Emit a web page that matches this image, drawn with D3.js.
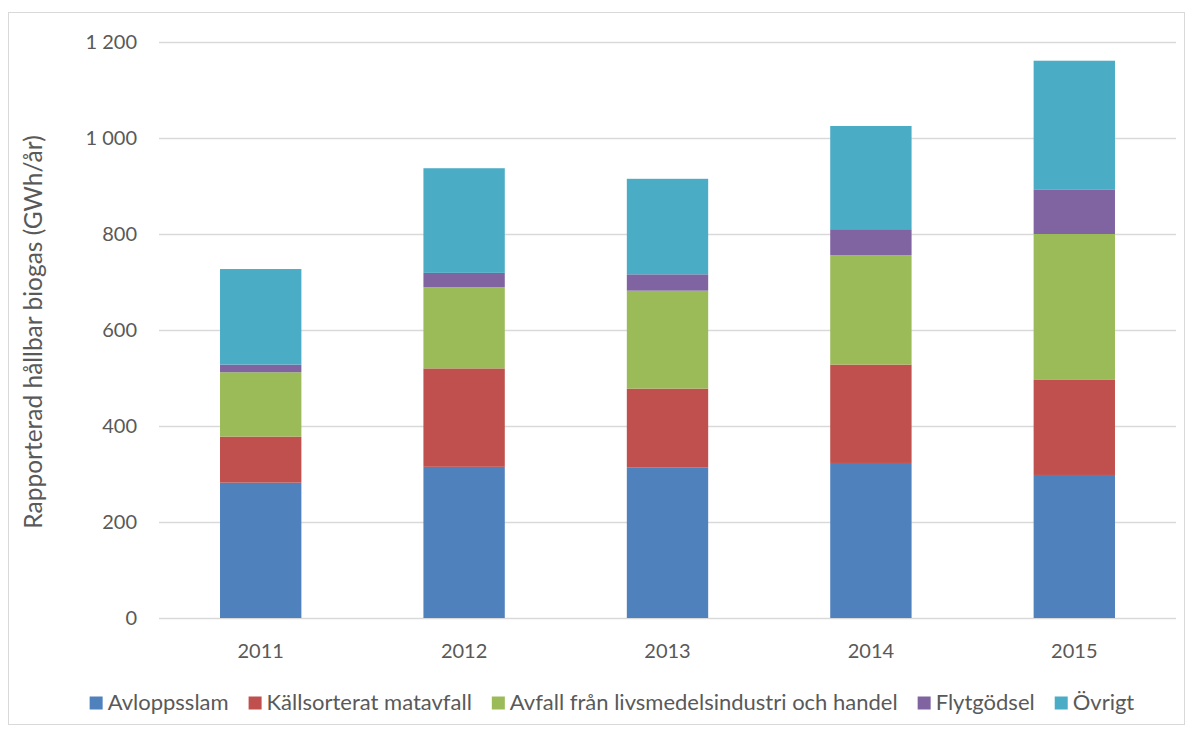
<!DOCTYPE html>
<html>
<head>
<meta charset="utf-8">
<script src="https://cdn.jsdelivr.net/npm/d3@7"></script>
<style>
html,body{margin:0;padding:0;background:#fff;}
svg text{font-family:Lato,"Open Sans",sans-serif;fill:#595959;}
</style>
</head>
<body>
<svg id="chart" width="1193" height="733"></svg>
<script>
const years = ["2011","2012","2013","2014","2015"];
const seriesNames = ["Avloppsslam","Källsorterat matavfall","Avfall från livsmedelsindustri och handel","Flytgödsel","Övrigt"];
const seriesColors = ["#4F81BD","#C0504D","#9BBB59","#8064A2","#4BACC6"];
const avloppsslam = [282, 315, 314, 323, 298];
const kallsorterat = [96, 205, 164, 205, 199];
const avfallLivsmedel = [134, 169, 204, 228, 303];
const flytgodsel = [16, 30, 34, 54, 93];
const ovrigt = [199, 218, 199, 215, 268];
const yTicks = [0, 200, 400, 600, 800, 1000, 1200];
const yTitle = "Rapporterad hållbar biogas (GWh/år)";

const seriesValues = [avloppsslam, kallsorterat, avfallLivsmedel, flytgodsel, ovrigt];
const keys = seriesNames;
const table = years.map((y, i) => {
  const row = {year: y};
  keys.forEach((k, j) => row[k] = seriesValues[j][i]);
  return row;
});

const svg = d3.select("#chart");
const plot = {left: 159, right: 1176, top: 42, bottom: 618};

// outer border
svg.append("rect").attr("x", 8.5).attr("y", 12.5).attr("width", 1176).attr("height", 712)
  .attr("fill", "none").attr("stroke", "#D9D9D9").attr("stroke-width", 1);

const x = d3.scaleBand().domain(years).range([plot.left, plot.right]).paddingInner(0.6).paddingOuter(0.3);
const y = d3.scaleLinear().domain([0, 1200]).range([plot.bottom, plot.top]);

// gridlines
svg.append("g").selectAll("line").data(yTicks).join("line")
  .attr("x1", plot.left).attr("x2", plot.right)
  .attr("y1", d => Math.round(y(d)) + 0.5).attr("y2", d => Math.round(y(d)) + 0.5)
  .attr("stroke", "#D9D9D9").attr("stroke-width", 1.5);

// y axis labels
const fmt = d => d3.format(",")(d).replace(/,/g, " ");
const yAxis = d3.axisLeft(y).tickValues(yTicks).tickFormat(fmt).tickSize(0).tickPadding(0);
const gy = svg.append("g").attr("transform", `translate(137,0)`).call(yAxis);
gy.select(".domain").remove();
gy.selectAll("text").attr("font-size", 20).attr("font-family", "Lato").attr("fill", "#595959");

// stacked bars
const stack = d3.stack().keys(keys)(table);
svg.append("g").selectAll("g").data(stack).join("g")
  .attr("fill", (d, i) => seriesColors[i])
  .selectAll("rect").data(d => d).join("rect")
  .attr("x", d => x(d.data.year))
  .attr("width", x.bandwidth())
  .attr("y", d => y(d[1]))
  .attr("height", d => y(d[0]) - y(d[1]));

// x axis labels
const xAxis = d3.axisBottom(x).tickSize(0).tickPadding(0);
const gx = svg.append("g").attr("transform", `translate(0,${plot.bottom + 26})`).call(xAxis);
gx.select(".domain").remove();
gx.selectAll("text").attr("font-size", 20).attr("font-family", "Lato").attr("fill", "#595959");

// y title
svg.append("text")
  .attr("transform", "translate(36,332) rotate(-90)")
  .attr("text-anchor", "middle")
  .attr("dominant-baseline", "middle")
  .attr("font-size", 24.5)
  .text(yTitle);

// legend
const legend = svg.append("g");
const sq = 13, gapText = 5, gapItem = 20;
const items = legend.selectAll("g").data(seriesNames).join("g");
items.append("rect").attr("width", sq).attr("height", sq).attr("y", -sq / 2)
  .attr("fill", (d, i) => seriesColors[i]);
items.append("text").attr("x", sq + gapText).attr("dominant-baseline", "middle").attr("y", 1)
  .attr("font-size", 22).text(d => d);
let widths = [];
items.each(function() { widths.push(this.getBBox().width); });
const total = d3.sum(widths) + gapItem * (widths.length - 1);
let cx = 612 - total / 2;
items.attr("transform", (d, i) => {
  const t = `translate(${cx},703)`;
  cx += widths[i] + gapItem;
  return t;
});
</script>
</body>
</html>
